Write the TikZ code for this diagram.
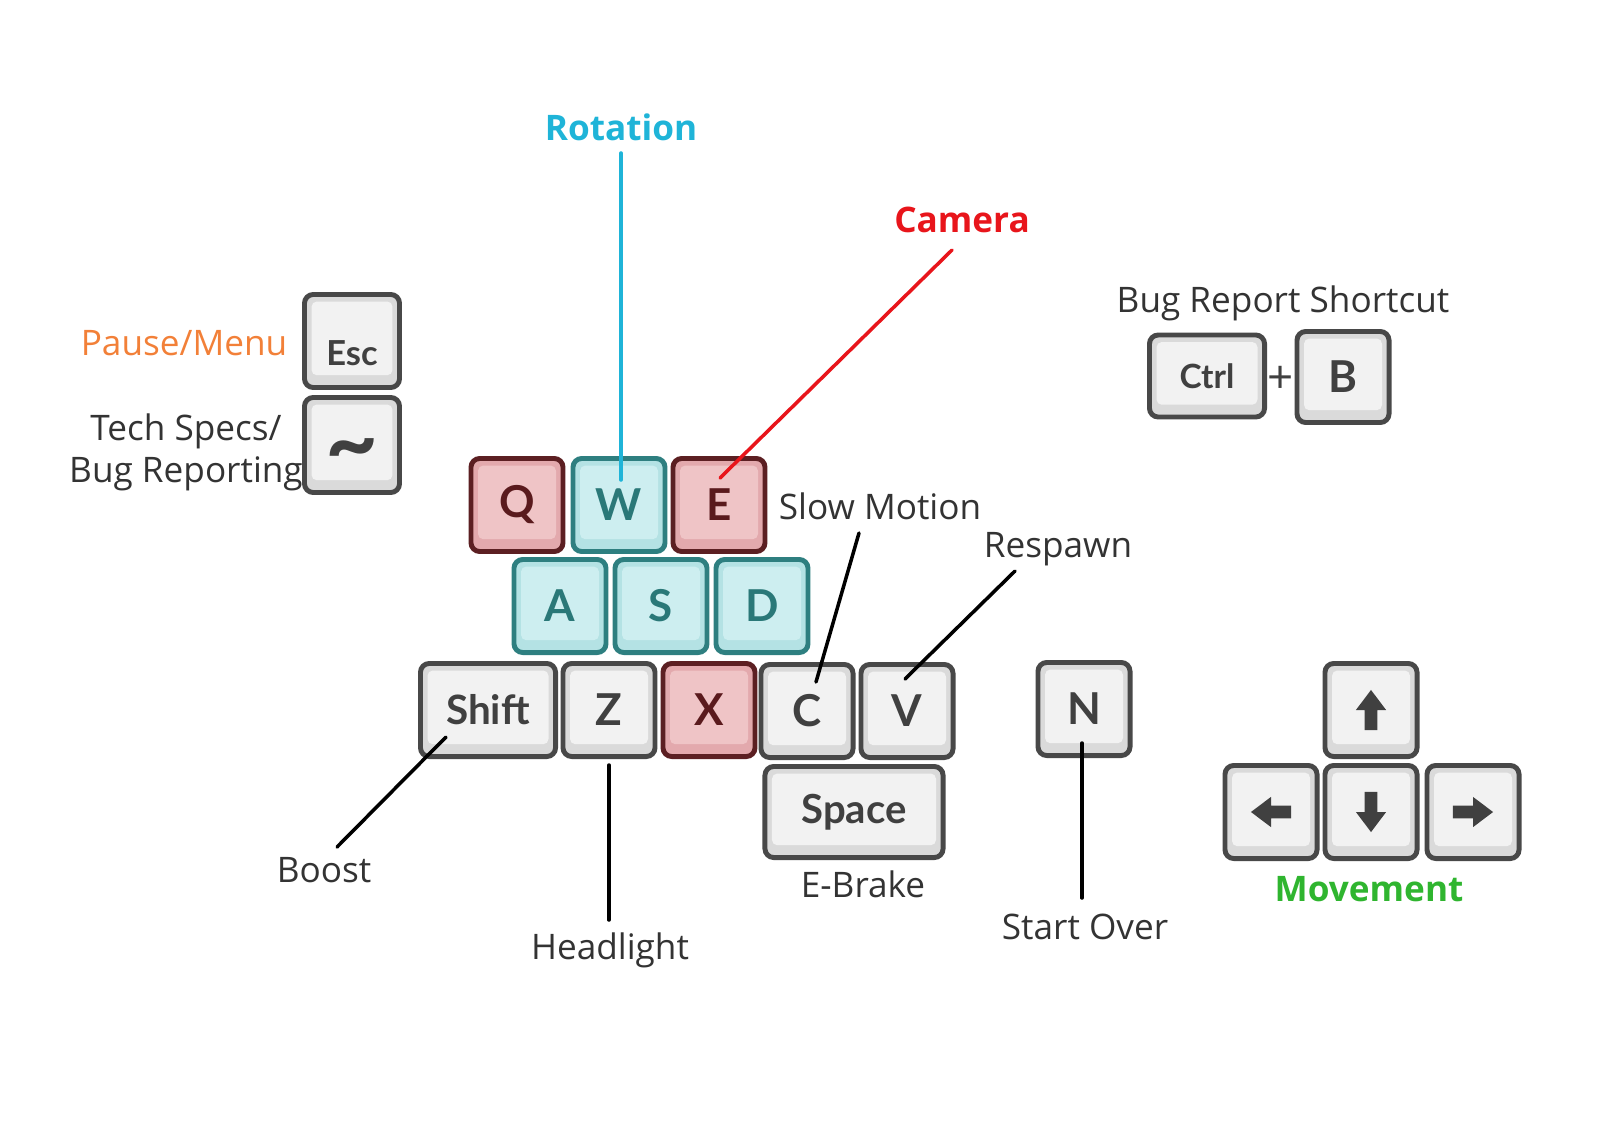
\documentclass[tikz,border=0pt]{standalone}
\usepackage{fontspec}
\setmainfont{Open Sans}
\newfontfamily\keyfont{Lato}
\usetikzlibrary{calc}
\definecolor{keyline}{HTML}{484848}
\definecolor{keyring}{HTML}{DADADA}
\definecolor{keyface}{HTML}{F2F2F2}
\definecolor{keytext}{HTML}{404040}
\definecolor{redline}{HTML}{5C1F22}
\definecolor{redring}{HTML}{E3A9AD}
\definecolor{redface}{HTML}{EFC4C6}
\definecolor{redtext}{HTML}{5A1A1D}
\definecolor{cyanline}{HTML}{2E7F80}
\definecolor{cyanring}{HTML}{B4E2E4}
\definecolor{cyanface}{HTML}{CDEEF0}
\definecolor{cyantext}{HTML}{2A7878}
\definecolor{labeltext}{HTML}{333333}
\definecolor{rotcol}{HTML}{1FB4D8}
\definecolor{camcol}{HTML}{E8151B}
\definecolor{pausecol}{HTML}{F28038}
\definecolor{movecol}{HTML}{2FB52F}
\begin{document}
\begin{tikzpicture}[x=0.01cm, y=-0.01cm,
  key/.style n args={3}{draw=#1, line width=1.4pt, rounded corners=2.5pt, fill=#2,
    minimum width=0.92cm, minimum height=0.93cm, inner sep=0pt,
    font=\keyfont\bfseries\fontsize{12.5}{14}\selectfont,
    path picture={\fill[#3, rounded corners=1.5pt]
      ([shift={(2pt,-2pt)}]path picture bounding box.north west) rectangle
      ([shift={(-2pt,3.5pt)}]path picture bounding box.south east);}},
  graykey/.style={key={keyline}{keyring}{keyface}, text=keytext},
  redkey/.style={key={redline}{redring}{redface}, text=redtext},
  cyankey/.style={key={cyanline}{cyanring}{cyanface}, text=cyantext},
  lab/.style={font=\fontsize{10}{12}\selectfont, text=labeltext, inner sep=0pt},
  title/.style={font=\bfseries\fontsize{10}{12}\selectfont, inner sep=0pt},
  conn/.style={line width=1pt, line cap=round}]
\useasboundingbox (0,0) rectangle (1600,1142);

% top row
\node[redkey] (Q) at (517,505) {Q};
\node[cyankey] (W) at (619,505) {W};
\node[redkey] (E) at (719,505) {E};
% middle row
\node[cyankey] (A) at (560,606) {A};
\node[cyankey] (S) at (661,606) {S};
\node[cyankey] (D) at (762,606) {D};
% bottom row
\node[graykey, minimum width=1.35cm, font=\keyfont\bfseries\fontsize{11.5}{12}\selectfont] (shift) at (488,710) {Shift};
\node[graykey] (Z) at (609,710) {Z};
\node[redkey] (X) at (709,710) {X};
\node[graykey] (C) at (807,711) {C};
\node[graykey] (V) at (907,711) {V};
\node[graykey, minimum width=1.78cm, minimum height=0.91cm, font=\keyfont\bfseries\fontsize{11.4}{12}\selectfont] (space) at (854,812) {Space};
\node[graykey] (N) at (1084,709) {N};
% esc and tilde
\node[graykey, minimum width=0.95cm, font=\keyfont\bfseries\fontsize{9.8}{10}\selectfont] (esc) at (352,341) {\raisebox{-3.5pt}[7pt][0pt]{Esc}};
\node[graykey, minimum width=0.95cm, minimum height=0.95cm, font=\keyfont\bfseries\fontsize{26}{26}\selectfont] (tilde) at (352,445) {\raisebox{-5.5pt}[6pt][0pt]{\textasciitilde}};
% shortcut
\node[graykey, minimum width=1.15cm, minimum height=0.82cm, font=\keyfont\bfseries\fontsize{9.5}{10}\selectfont] (ctrl) at (1207,376) {Ctrl};
\node[graykey, minimum height=0.91cm] (B) at (1343,377) {B};
\node[font=\fontsize{13}{13}\selectfont, text=keytext, inner sep=0pt] (plus) at (1281,380) {+};
% arrow keys
\node[graykey] (up) at (1371,710) {};
\node[graykey] (left) at (1271,812) {};
\node[graykey] (down) at (1371,812) {};
\node[graykey] (right) at (1473,812) {};
\foreach \k/\ang in {up/0, left/90, down/180, right/-90}
  \fill[keytext, shift={(\k)}, rotate=\ang, x=1pt, y=1pt]
    (-1.8,-5.7) -- (-1.8,0) -- (-4.3,0) -- (0,5.7) -- (4.3,0) -- (1.8,0) -- (1.8,-5.7) -- cycle;

% labels
\node[title, text=rotcol] (rot) at (621,127) {Rotation};
\node[title, text=camcol] (cam) at (962,220) {Camera};
\node[lab, text=pausecol] (pause) at (184,343) {Pause/Menu};
\node[lab, align=center] (tech) at (186,452) {Tech Specs/\\Bug Reporting};
\node[lab] (bug) at (1283,303) {Bug Report Shortcut};
\node[lab] (slow) at (880,506) {Slow Motion};
\node[lab] (resp) at (1058,549) {Respawn};
\node[lab] (boost) at (324,870) {Boost};
\node[lab] (head) at (610,950) {Headlight};
\node[lab] (brake) at (863,884) {E-Brake};
\node[lab] (start) at (1085,927) {Start Over};
\node[title, text=movecol] (move) at (1369,889) {Movement};

% connectors
\draw[conn, rotcol] ($(rot)+(0,26)$) -- ($(W)+(2,-25)$);
\draw[conn, camcol] ($(cam)+(-10,30)$) -- ($(E)+(1,-27)$);
\draw[conn] ($(slow)+(-21,27)$) -- ($(C)+(9,-29)$);
\draw[conn] ($(resp)+(-43,22)$) -- ($(V)+(-2,-32)$);
\draw[conn] ($(boost)+(13,-23)$) -- ($(shift)+(-42,27)$);
\draw[conn] ($(head)+(-1,-30)$) -- ($(Z)+(0,55)$);
\draw[conn] ($(start)+(-3,-29)$) -- ($(N)+(-2,34)$);
\end{tikzpicture}
\end{document}
